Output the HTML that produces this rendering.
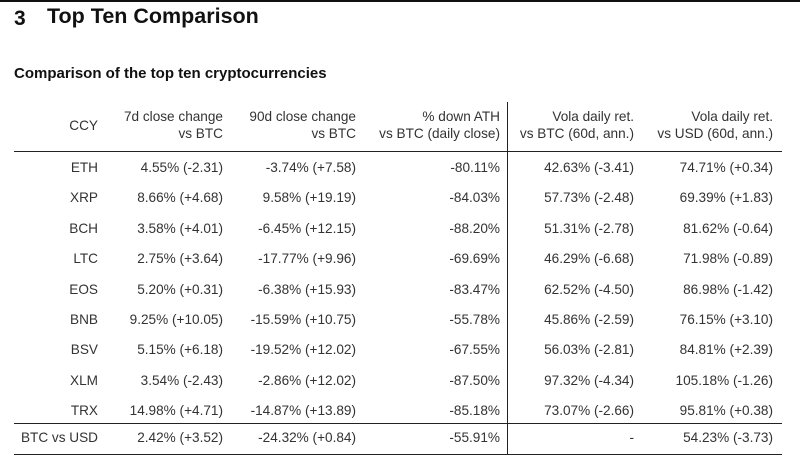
<!DOCTYPE html>
<html><head><meta charset="utf-8"><style>
html,body{margin:0;padding:0;background:#fff;width:800px;height:466px;overflow:hidden;position:relative;font-family:"Liberation Sans",sans-serif;color:#333}
.t{position:absolute;white-space:nowrap;font-size:13.6px;line-height:16px;text-align:right}
.h{position:absolute;background:#222;height:1px;left:14px;width:768px}
</style></head><body>
<div style="position:absolute;left:0;top:0;width:800px;height:2px;background:#111"></div>
<div style="position:absolute;left:14px;top:6px;font-size:21px;font-weight:bold;color:#111;line-height:26px">3</div>
<div style="position:absolute;left:47px;top:3px;font-size:21.5px;font-weight:bold;color:#111;line-height:26px">Top Ten Comparison</div>
<div style="position:absolute;left:14px;top:65px;font-size:15px;font-weight:bold;color:#111;line-height:18px">Comparison of the top ten cryptocurrencies</div>
<div class="h" style="top:151px"></div>
<div class="h" style="top:423px"></div>
<div class="h" style="top:454px"></div>
<div style="position:absolute;left:507px;top:102px;width:1px;height:353px;background:#222"></div>
<div id="c"></div>
<script>
const R=[98,223,356,500,634,773];
const hdr=[["","CCY"],["7d close change","vs BTC"],["90d close change","vs BTC"],["% down ATH","vs BTC (daily close)"],["Vola daily ret.","vs BTC (60d, ann.)"],["Vola daily ret.","vs USD (60d, ann.)"]];
const rows=[
["ETH","4.55% (-2.31)","-3.74% (+7.58)","-80.11%","42.63% (-3.41)","74.71% (+0.34)"],
["XRP","8.66% (+4.68)","9.58% (+19.19)","-84.03%","57.73% (-2.48)","69.39% (+1.83)"],
["BCH","3.58% (+4.01)","-6.45% (+12.15)","-88.20%","51.31% (-2.78)","81.62% (-0.64)"],
["LTC","2.75% (+3.64)","-17.77% (+9.96)","-69.69%","46.29% (-6.68)","71.98% (-0.89)"],
["EOS","5.20% (+0.31)","-6.38% (+15.93)","-83.47%","62.52% (-4.50)","86.98% (-1.42)"],
["BNB","9.25% (+10.05)","-15.59% (+10.75)","-55.78%","45.86% (-2.59)","76.15% (+3.10)"],
["BSV","5.15% (+6.18)","-19.52% (+12.02)","-67.55%","56.03% (-2.81)","84.81% (+2.39)"],
["XLM","3.54% (-2.43)","-2.86% (+12.02)","-87.50%","97.32% (-4.34)","105.18% (-1.26)"],
["TRX","14.98% (+4.71)","-14.87% (+13.89)","-85.18%","73.07% (-2.66)","95.81% (+0.38)"],
["BTC vs USD","2.42% (+3.52)","-24.32% (+0.84)","-55.91%","-","54.23% (-3.73)"]];
let h="";
function cell(x,y,s){h+=`<div class="t" style="right:${800-x}px;top:${y-8}px">${s}</div>`;}
hdr.forEach((c,i)=>{ if(i==0) cell(R[i],126,c[1]); else {cell(R[i],117,c[0]);cell(R[i],134,c[1]);} });
rows.forEach((r,j)=>{const y=j<9?168+j*30.4:438; r.forEach((s,i)=>cell(R[i],y,s));});
document.getElementById("c").innerHTML=h;
</script>
</body></html>
